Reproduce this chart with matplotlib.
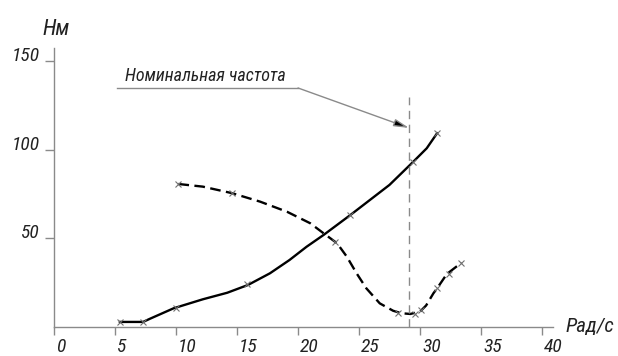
from matplotlib import pyplot as plt
from matplotlib import transforms

# solid curve (motor torque)
solidX = [5.4, 7.3, 7.9, 9.8, 12.2, 14.2, 15.9, 17.7, 19.3, 20.7, 22.1, 24.3, 25.9, 27.5, 29.45, 30.55, 31.4]
solidY = [2.7, 2.7, 4.6, 10.4, 15.5, 19.2, 23.6, 30.2, 37.7, 45.2, 51.9, 63.2, 71.7, 80.2, 93.3, 100.9, 109.4]
solidMarkX = [5.4, 7.3, 10.0, 15.8, 24.3, 29.45, 31.4]
solidMarkY = [2.7, 2.7, 10.8, 24.0, 63.2, 93.3, 109.4]

# dashed curve (load torque)
dashX = [10.2, 12.2, 14.6, 16.9, 19.1, 21.0, 22.1, 23.2, 24.0, 24.8, 25.6, 26.7, 27.8, 28.5, 29.2, 30.0, 30.5, 31.1, 31.4, 32.2, 33.4]
dashY = [80.7, 79.2, 75.5, 70.7, 65.0, 58.5, 52.8, 47.2, 39.6, 30.2, 21.7, 13.2, 9.0, 7.6, 7.2, 8.5, 12.0, 18.9, 21.7, 29.8, 36.2]
dashMarkX = [10.2, 14.6, 23.0, 28.2, 29.6, 30.1, 31.4, 32.4, 33.4]
dashMarkY = [80.7, 75.5, 47.7, 7.9, 7.0, 9.4, 22.0, 30.0, 36.2]

nominal = 29.1
xTicks = [0, 5, 10, 15, 20, 25, 30, 35, 40]
yTicks = [50, 100, 150]

FONT = ["Roboto Condensed", "Roboto", "DejaVu Sans"]
GRAY = "#8a8a8a"
INK = "#222222"

fig = plt.figure(figsize=(6.18, 3.56), dpi=100)
ax = fig.add_axes([54 / 618, 29.3 / 356, 499 / 618, 278.7 / 356])
ax.set_xlim(0, 40.9)
ax.set_ylim(0, 157.6)

for s in ["top", "right"]:
    ax.spines[s].set_visible(False)
for s in ["left", "bottom"]:
    ax.spines[s].set_color(GRAY)
    ax.spines[s].set_linewidth(1.0)

ax.plot(solidX, solidY, color="black", lw=1.7, solid_joinstyle="round")
ax.plot(solidMarkX, solidMarkY, "x", color="#707070", ms=5, mew=0.8)
ax.plot(dashX, dashY, color="black", lw=1.7, dashes=(4.5, 2.3), dash_joinstyle="round")
ax.plot(dashMarkX, dashMarkY, "x", color="#707070", ms=5, mew=0.8)

ax.plot([nominal, nominal], [0, 130], color=GRAY, lw=1.0, dashes=(6, 4))

# leader line to the nominal frequency
ax.plot([5.16, 20.0], [135.0, 135.0], color=GRAY, lw=1.0, clip_on=False)
ax.annotate("", xy=(nominal, 112.4), xytext=(20.0, 135.0),
            arrowprops=dict(arrowstyle="-|>,head_length=0.9,head_width=0.22",
                            color=GRAY, lw=1.0, mutation_scale=10,
                            shrinkA=0, shrinkB=0, fc="black", ec=GRAY))
ax.text(5.8, 136.8, "Номинальная частота", family=FONT, style="italic",
        fontsize=13, color=INK, va="bottom", ha="left")

ax.set_xticks(xTicks)
ax.set_xticklabels([str(t) for t in xTicks], ha="left")
ax.set_yticks(yTicks)
ax.set_yticklabels([str(t) for t in yTicks])
ax.tick_params(axis="x", direction="out", length=6, width=1.0, color=GRAY,
               labelsize=14, pad=2, labelcolor=INK)
ax.tick_params(axis="y", direction="out", length=6.5, width=1.0, color=GRAY,
               labelsize=14, pad=4, labelcolor=INK)
for lab in ax.get_xticklabels() + ax.get_yticklabels():
    lab.set_family(FONT)
    lab.set_style("italic")
offset = transforms.ScaledTranslation(0, 7 / 100, fig.dpi_scale_trans)
for lab in ax.get_yticklabels():
    lab.set_transform(lab.get_transform() + offset)
offx = transforms.ScaledTranslation(2 / 100, 0, fig.dpi_scale_trans)
for lab in ax.get_xticklabels():
    lab.set_transform(lab.get_transform() + offx)

fig.text(42 / 618, 1 - 35 / 356, "Нм", family=FONT, style="italic",
         fontsize=16, color=INK, ha="left", va="baseline")
fig.text(566 / 618, 1 - 332 / 356, "Рад/с", family=FONT, style="italic",
         fontsize=15, color=INK, ha="left", va="baseline")

plt.savefig("out.png", dpi=100)
